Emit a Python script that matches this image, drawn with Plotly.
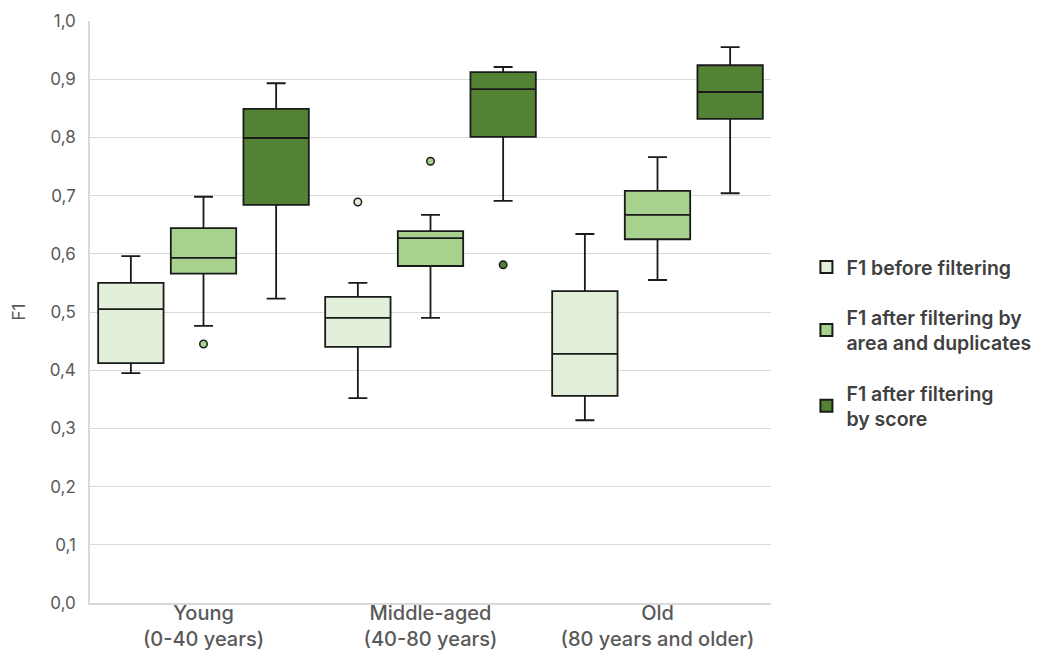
import plotly.graph_objects as go

categories = ["Young<br>(0-40 years)", "Middle-aged<br>(40-80 years)", "Old<br>(80 years and older)"]
series_names = ["F1 before filtering", "F1 after filtering by<br>area and duplicates", "F1 after filtering<br>by score"]
colors = ["#E2EFDA", "#A9D18E", "#548235"]

# per series: values for Young, Middle-aged, Old
lowerfence = [[0.395, 0.352, 0.314], [0.476, 0.490, 0.555], [0.523, 0.691, 0.704]]
q1 = [[0.412, 0.440, 0.356], [0.566, 0.579, 0.625], [0.684, 0.801, 0.832]]
median = [[0.505, 0.490, 0.428], [0.593, 0.627, 0.667], [0.799, 0.883, 0.878]]
q3 = [[0.550, 0.526, 0.536], [0.644, 0.639, 0.708], [0.849, 0.912, 0.924]]
upperfence = [[0.596, 0.550, 0.634], [0.698, 0.667, 0.766], [0.893, 0.921, 0.955]]
# outliers: (series index, category index, value)
outliers = [(0, 1, 0.689), (1, 0, 0.445), (1, 1, 0.759), (2, 1, 0.581)]

offsets = [-0.32, 0.0, 0.32]
box_w = 0.288

fig = go.Figure()
for s in range(3):
    xs = [i + offsets[s] for i in range(len(categories))]
    fig.add_trace(go.Box(
        x=xs, q1=q1[s], median=median[s], q3=q3[s],
        lowerfence=lowerfence[s], upperfence=upperfence[s],
        width=box_w, whiskerwidth=0.29,
        fillcolor=colors[s], line=dict(color="#1a1a1a", width=1.8),
        name=series_names[s], legendgroup=f"g{s}", boxpoints=False,
        hoverinfo="y",
    ))
for s, c, v in outliers:
    fig.add_trace(go.Scatter(
        x=[c + offsets[s]], y=[v], mode="markers",
        marker=dict(size=7.5, color=colors[s], line=dict(color="#1a1a1a", width=1.5)),
        showlegend=False, legendgroup=f"g{s}", hoverinfo="y",
    ))

fig.update_layout(
    width=1040, height=642,
    margin=dict(l=82, r=273, t=13, b=47),
    plot_bgcolor="white", paper_bgcolor="white",
    separators=", ",
    font=dict(family="Inter, Noto Sans, sans-serif", color="#595959", size=16),
    showlegend=True,
    legend=dict(
        x=1.052, xanchor="left", y=0.447, yanchor="middle",
        font=dict(size=19.5, color="#404040", weight=600),
        tracegroupgap=22, itemsizing="constant",
    ),
    xaxis=dict(
        range=[-0.5, 2.5], tickvals=list(range(len(categories))), ticktext=categories,
        showgrid=False, zeroline=False, showline=True, linecolor="#d9d9d9", linewidth=1.5,
        ticks="", tickfont=dict(size=20, color="#595959", weight=500), automargin=False,
        ticklabelstandoff=-9,
    ),
    yaxis=dict(
        range=[0, 1.0], dtick=0.1, tickformat=".1f",
        showgrid=True, gridcolor="#d9d9d9", gridwidth=1.2,
        zeroline=False, showline=True, linecolor="#d9d9d9", linewidth=1.5,
        ticks="", tickfont=dict(size=17, color="#595959"), ticklabelstandoff=9,
        title=dict(text="F1", font=dict(size=17, color="#595959"), standoff=20),
        automargin=False,
    ),
)

fig.write_html("out.html")
